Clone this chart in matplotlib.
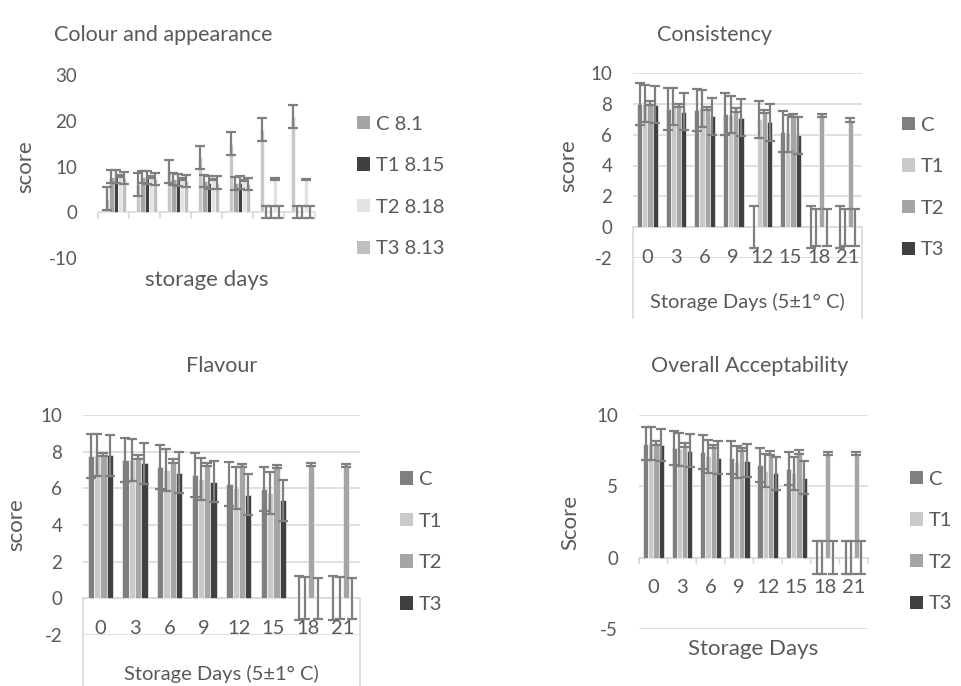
import matplotlib
matplotlib.use("Agg")
import matplotlib.pyplot as plt
import numpy as np
from matplotlib.transforms import offset_copy, blended_transform_factory
from matplotlib.patches import Patch
from matplotlib.lines import Line2D

plt.rcParams['font.family'] = ['Lato', 'DejaVu Sans']

TXT = '#595959'
GRID = '#d9d9d9'
ERR = '#7f7f7f'

# ---- data ----
# Colour and appearance (day 0 row ended up as series names)
colour_days = [3, 6, 9, 12, 15, 18, 21]
colour_dayseries = [3, 6, 9, 12, 15, 18, 21]
colour_dayseries_err = [2.5] * 7
colour_names = ['C 8.1', 'T1 8.15', 'T2 8.18', 'T3 8.13']
colour_vals = [
    [7.8, 7.7, 7.2, 6.8, 6.3, 0, 0],
    [7.8, 7.6, 7.0, 6.5, 6.5, 0, 0],
    [7.9, 7.7, 7.3, 7.1, 6.9, 7.3, 7.2],
    [7.5, 7.3, 6.9, 6.5, 6.2, 0, 0],
]
colour_err = [1.35, 1.35, 0.15, 1.35]

days = [0, 3, 6, 9, 12, 15, 18, 21]
names = ['C', 'T1', 'T2', 'T3']

cons_vals = [
    [8.0, 7.65, 7.6, 7.35, 0, 6.2, 0, 0],
    [8.0, 7.8, 7.7, 7.3, 7.0, 6.1, 0, 0],
    [8.05, 7.9, 7.7, 7.6, 7.5, 7.25, 7.25, 6.95],
    [7.95, 7.5, 7.2, 7.1, 6.8, 5.95, 0, 0],
]
cons_err = [1.35, 1.2, 0.12, 1.2]

flav_vals = [
    [7.75, 7.57, 7.15, 6.75, 6.25, 5.95, 0, 0],
    [7.8, 7.55, 7.0, 6.5, 6.0, 5.75, 0, 0],
    [7.85, 7.7, 7.5, 7.3, 7.25, 7.2, 7.3, 7.25],
    [7.8, 7.37, 6.85, 6.35, 5.65, 5.35, 0, 0],
]
flav_err = [1.2, 1.15, 0.1, 1.12]

over_vals = [
    [8.0, 7.7, 7.4, 7.0, 6.5, 6.25, 0, 0],
    [8.0, 7.6, 7.1, 6.7, 6.1, 5.9, 0, 0],
    [8.05, 7.9, 7.8, 7.6, 7.35, 7.4, 7.3, 7.3],
    [7.9, 7.5, 7.0, 6.8, 5.9, 5.6, 0, 0],
]
over_err = [1.17, 1.15, 0.12, 1.15]

colors4 = ['#7f7f7f', '#c9c9c9', '#a5a5a5', '#404040']
colours_c = ['#a5a5a5', '#404040', '#e3e3e3', '#bfbfbf']
dayseries_color = '#c8c8c8'

TICK_FS = 13.5
LAB_FS = 16
LEG_FS = 14.5
TITLE_FS = 15.5

fig = plt.figure(figsize=(9.62, 6.86), dpi=100)


def bars(ax, series, errs, cols, n_slots, first_slot):
    w = 1.0 / (n_slots + 1.5)
    n = len(series[0])
    x = np.arange(n)
    for i, (vals, e, c) in enumerate(zip(series, errs, cols)):
        off = (first_slot + i - (n_slots - 1) / 2) * w
        ax.bar(x + off, vals, w, color=c, edgecolor='white', linewidth=0.4, zorder=2)
        ax.errorbar(x + off, vals, yerr=e, fmt='none', ecolor=ERR, elinewidth=1.6,
                    capsize=3.8, capthick=1.6, zorder=3)
    ax.set_xlim(-0.5, n - 0.5)


def style(ax, ylim, yticks, grid):
    ax.set_ylim(*ylim)
    ax.set_yticks(yticks)
    ax.set_yticklabels([str(t) for t in yticks])
    for s in ax.spines.values():
        s.set_visible(False)
    ax.tick_params(axis='y', length=0, labelsize=TICK_FS, labelcolor=TXT, pad=15)
    ax.set_xticks([])
    if grid:
        for t in yticks:
            ax.axhline(t, color=GRID, lw=1.2, zorder=0)
    ax.axhline(0, color=GRID, lw=1.2, zorder=1)


def cat_ticks(ax, n):
    for k in range(n + 1):
        ax.annotate('', xy=(k - 0.5, 0), xytext=(0, -6), textcoords='offset pixels',
                    arrowprops=dict(arrowstyle='-', color=GRID, lw=1.2,
                                    shrinkA=0, shrinkB=0), annotation_clip=False)


def below_zero(ax, px):
    return offset_copy(blended_transform_factory(ax.transAxes, ax.transData),
                       fig=fig, y=-px, units='dots')


def cat_labels(ax, labels):
    tr = offset_copy(ax.transData, fig=fig, y=-30, units='dots')
    for k, l in enumerate(labels):
        ax.text(k, 0, str(l), transform=tr, ha='center', va='center',
                fontsize=LEG_FS, color=TXT)


def box(ax, bottom_px):
    # outer category box of a multi-level axis
    n = len(days)
    zero_px = ax.transData.transform((0, 0))[1]
    fig_h = fig.bbox.height
    y0 = zero_px / fig_h
    y1 = (fig_h - bottom_px) / fig_h
    for xx in (-0.5, n - 0.5):
        xf = fig.transFigure.inverted().transform(ax.transData.transform((xx, 0)))[0]
        fig.add_artist(Line2D([xf, xf], [y0, y1], color=GRID, lw=1.2,
                              transform=fig.transFigure))


def legend(labels, cols, x, y):
    h = [Patch(facecolor=c, edgecolor='none') for c in cols]
    fig.legend(h, labels, loc='center left', bbox_to_anchor=(x, y), frameon=False,
               fontsize=LEG_FS, labelcolor=TXT, handlelength=0.65, handleheight=0.65,
               handletextpad=0.3, labelspacing=1.22, borderpad=0, borderaxespad=0)


def title(text, x, y):
    fig.text(x / 962, 1 - y / 686, text, ha='center', va='center',
             fontsize=TITLE_FS, color=TXT)


def ylabel(ax, text, x):
    ax.set_ylabel(text, fontsize=LAB_FS, color=TXT)
    ax.yaxis.set_label_coords(x, 0.5)


# ---- Colour and appearance ----
ax1 = fig.add_axes([98 / 962, 1 - 258 / 686, 217 / 962, 183 / 686])
w6 = 1.0 / (6 + 1.5)
xc = np.arange(len(colour_days))
ax1.bar(xc + (1 - 2.5) * w6, colour_dayseries, w6, color=dayseries_color,
        edgecolor='white', linewidth=0.4, zorder=2)
ax1.errorbar(xc + (1 - 2.5) * w6, colour_dayseries, yerr=colour_dayseries_err,
             fmt='none', ecolor=ERR, elinewidth=1.6, capsize=3.8, capthick=1.6, zorder=3)
bars(ax1, colour_vals, colour_err, colours_c, 6, 2)
style(ax1, (-10, 30), [-10, 0, 10, 20, 30], grid=False)
cat_ticks(ax1, len(colour_days))
title('Colour and appearance', 163, 35)
ylabel(ax1, 'score', -0.29)
ax1.text(0.5, 0, 'storage days', transform=below_zero(ax1, 68), ha='center',
         va='center', fontsize=LAB_FS, color=TXT)
legend(colour_names, colours_c, 357 / 962, 1 - 186.5 / 686)

# ---- Consistency ----
ax2 = fig.add_axes([633 / 962, 1 - 258 / 686, 229 / 962, 185 / 686])
bars(ax2, cons_vals, cons_err, colors4, 4, 0)
style(ax2, (-2, 10), [-2, 0, 2, 4, 6, 8, 10], grid=True)
cat_labels(ax2, days)
box(ax2, 318)
ax2.text(0.5, 0, 'Storage Days (5±1° C)', transform=below_zero(ax2, 75),
         ha='center', va='center', fontsize=LEG_FS, color=TXT)
title('Consistency', 715, 35)
ylabel(ax2, 'score', -0.24)
legend(names, colors4, 902 / 962, 1 - 187.5 / 686)

# ---- Flavour ----
ax3 = fig.add_axes([83 / 962, 1 - 635 / 686, 277 / 962, 220 / 686])
bars(ax3, flav_vals, flav_err, colors4, 4, 0)
style(ax3, (-2, 10), [-2, 0, 2, 4, 6, 8, 10], grid=True)
cat_labels(ax3, days)
box(ax3, 686)
ax3.text(0.5, 0, 'Storage Days (5±1° C)', transform=below_zero(ax3, 76),
         ha='center', va='center', fontsize=LEG_FS, color=TXT)
title('Flavour', 222, 366)
ylabel(ax3, 'score', -0.206)
legend(names, colors4, 400 / 962, 1 - 542 / 686)

# ---- Overall Acceptability ----
ax4 = fig.add_axes([639 / 962, 1 - 629 / 686, 229 / 962, 214 / 686])
bars(ax4, over_vals, over_err, colors4, 4, 0)
style(ax4, (-5, 10), [-5, 0, 5, 10], grid=True)
cat_ticks(ax4, len(days))
cat_labels(ax4, days)
ax4.text(0.5, 0, 'Storage Days', transform=below_zero(ax4, 91), ha='center',
         va='center', fontsize=LAB_FS, color=TXT)
title('Overall Acceptability', 750, 366)
ylabel(ax4, 'Score', -0.258)
legend(names, colors4, 910 / 962, 1 - 541.5 / 686)

fig.savefig('out.png', dpi=100)
